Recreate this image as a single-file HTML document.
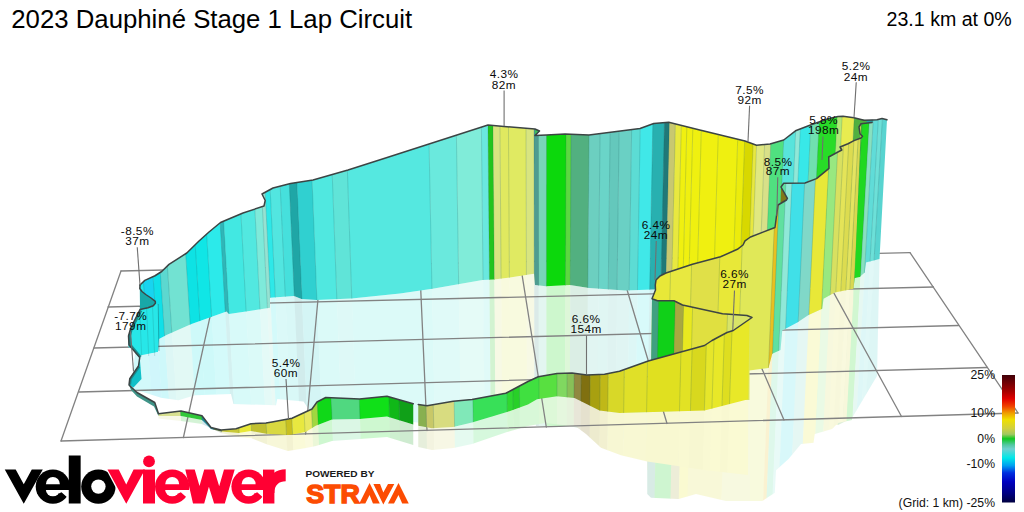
<!DOCTYPE html>
<html><head><meta charset="utf-8"><title>2023 Dauphine Stage 1 Lap Circuit</title>
<style>html,body{margin:0;padding:0;background:#fff;}body{width:1024px;height:512px;overflow:hidden;font-family:"Liberation Sans",sans-serif;}svg{display:block;}text{font-family:"Liberation Sans",sans-serif;}</style></head><body>
<svg width="1024" height="512" viewBox="0 0 1024 512">
<rect width="1024" height="512" fill="#ffffff"/>
<g id="refl" opacity="0.2">
<clipPath id="c1"><polygon points="140,309.5 130.75,328 128.5,336 128.5,347 132.6,349 140,354.5 158,351.7 159,339 166.5,335 191.5,324 226.5,311.5 229,314 270,307.75 270,297.75 294,296 301.5,299 316.5,300 351.5,298.5 400,293.5 432.5,288.75 482.5,280 494,279.5 510,277.5 534,273.75 535,285 546,286.25 570,285 589,288 625,290.5 652.5,289.5 800,290 859.75,277 864.75,272.5 866,262.5 879.5,259 879.5,259 877,376 869.5,388.5 852,418 838,425 800,424 784,425 757,424 745,426 700,438 669,447 652,445 625,440 589,431 570,426 536,426 534,410 510,422 488,425 432,424 384,419 330,416 312,412 308.5,409 303.5,401.5 277.25,399 276,405.25 233.5,404 231,394 194.75,395.25 178.5,400.25 161,397.75 140,391 131,389"/></clipPath>
<g clip-path="url(#c1)">
<polygon points="72.31,0 123.75,0 160.2,512 113.23,512" fill="#22e6ea"/>
<polygon points="123.34,0 134.27,0 169.8,512 159.82,512" fill="#18d4f0"/>
<polygon points="133.86,0 142.16,0 177,512 169.42,512" fill="#10e0e8"/>
<polygon points="141.74,0 150.05,0 184.2,512 176.62,512" fill="#5cd8d0"/>
<polygon points="149.63,0 170.03,0 202.45,512 183.83,512" fill="#72e2d2"/>
<polygon points="169.62,0 180.55,0 212.05,512 202.07,512" fill="#0ee2e4"/>
<polygon points="180.13,0 193.17,0 223.58,512 211.68,512" fill="#10e6e6"/>
<polygon points="192.76,0 207.89,0 237.02,512 223.2,512" fill="#2ceaea"/>
<polygon points="207.48,0 211.58,0 240.39,512 236.65,512" fill="#2fb6b8"/>
<polygon points="211.16,0 229.98,0 257.19,512 240.01,512" fill="#42e8e2"/>
<polygon points="229.57,0 244.71,0 270.64,512 256.81,512" fill="#52e8e0"/>
<polygon points="244.29,0 252.6,0 277.84,512 270.26,512" fill="#7eeada"/>
<polygon points="252.18,0 256.28,0 281.2,512 277.46,512" fill="#96e2d2"/>
<polygon points="255.86,0 261.54,0 286,512 280.82,512" fill="#2ee8e8"/>
<polygon points="261.12,0 272.05,0 295.61,512 285.62,512" fill="#52e6e0"/>
<polygon points="271.64,0 281.52,0 304.25,512 295.23,512" fill="#46e0dc"/>
<polygon points="281.11,0 289.41,0 311.45,512 303.87,512" fill="#1fa6a6"/>
<polygon points="288.99,0 305.18,0 325.86,512 311.07,512" fill="#30d0d0"/>
<polygon points="304.77,0 326.22,0 345.06,512 325.48,512" fill="#50e8e0"/>
<polygon points="325.81,0 342,0 359.47,512 344.69,512" fill="#60e4d8"/>
<polygon points="341.58,0 426.62,0 436.73,512 359.09,512" fill="#55e8e0"/>
<polygon points="426.2,0 454.79,0 462.46,512 436.36,512" fill="#6ae9dd"/>
<polygon points="454.38,0 480.47,0 485.91,512 462.08,512" fill="#80ecd9"/>
<polygon points="480.06,0 487.17,0 492.03,512 485.53,512" fill="#6ae8df"/>
<polygon points="486.76,0 492.29,0 496.69,512 491.65,512" fill="#22c41e"/>
<polygon points="491.87,0 499.44,0 503.23,512 496.32,512" fill="#d8e480"/>
<polygon points="499.03,0 508.14,0 511.17,512 502.85,512" fill="#e0e960"/>
<polygon points="507.72,0 526.03,0 527.51,512 510.79,512" fill="#e0ea62"/>
<polygon points="525.62,0 534.19,0 534.96,512 527.13,512" fill="#d8e580"/>
<polygon points="533.78,0 538.8,0 539.17,512 534.58,512" fill="#4e9c90"/>
<polygon points="538.39,0 547,0 546.65,512 538.79,512" fill="#78d4b8"/>
<polygon points="546.59,0 566.97,0 564.89,512 546.27,512" fill="#0cd80c"/>
<polygon points="566.56,0 572.1,0 569.57,512 564.51,512" fill="#5cd840"/>
<polygon points="571.68,0 590.53,0 586.4,512 569.19,512" fill="#52b080"/>
<polygon points="590.12,0 601.8,0 596.69,512 586.02,512" fill="#6ccfc0"/>
<polygon points="601.39,0 612.05,0 606.04,512 596.31,512" fill="#6ad4c8"/>
<polygon points="611.63,0 621.26,0 614.46,512 605.67,512" fill="#64c8bc"/>
<polygon points="620.85,0 634.07,0 626.15,512 614.08,512" fill="#6ad0c4"/>
<polygon points="633.65,0 642.78,0 634.1,512 625.77,512" fill="#5cdcd4"/>
<polygon points="642.36,0 655.58,0 645.79,512 633.72,512" fill="#40e8e8"/>
<polygon points="655.17,0 667.36,0 656.55,512 645.42,512" fill="#28b0b0"/>
<polygon points="666.95,0 672.48,0 661.23,512 656.17,512" fill="#207878"/>
<polygon points="672.07,0 678.63,0 666.84,512 660.85,512" fill="#c8c870"/>
<polygon points="678.21,0 684.77,0 672.45,512 666.46,512" fill="#e8e840"/>
<polygon points="684.36,0 690.41,0 677.59,512 672.07,512" fill="#f0f010"/>
<polygon points="689.99,0 696.57,0 683.22,512 677.22,512" fill="#f0f010"/>
<polygon points="696.16,0 705.31,0 691.2,512 682.85,512" fill="#eff010"/>
<polygon points="704.9,0 722.79,0 707.16,512 690.82,512" fill="#f0f010"/>
<polygon points="722.37,0 742.83,0 725.46,512 706.78,512" fill="#eff010"/>
<polygon points="742.42,0 750.03,0 732.03,512 725.08,512" fill="#ecec0c"/>
<polygon points="749.61,0 758.76,0 740.01,512 731.65,512" fill="#d8d800"/>
<polygon points="758.35,0 762.36,0 743.29,512 739.63,512" fill="#e8e840"/>
<polygon points="761.95,0 770.59,0 750.8,512 742.92,512" fill="#e0e880"/>
<polygon points="770.17,0 776.86,0 756.53,512 750.42,512" fill="#d8e088"/>
<polygon points="776.45,0 789.98,0 768.51,512 756.15,512" fill="#50e080"/>
<polygon points="789.57,0 801.84,0 779.34,512 768.14,512" fill="#58e4dc"/>
<polygon points="801.42,0 806.44,0 783.54,512 778.96,512" fill="#90e8d8"/>
<polygon points="806.03,0 816.95,0 793.14,512 783.16,512" fill="#38e8e8"/>
<polygon points="816.54,0 825.4,0 800.85,512 792.76,512" fill="#70e0b0"/>
<polygon points="824.98,0 843.53,0 817.4,512 800.47,512" fill="#28dc28"/>
<polygon points="843.11,0 848.63,0 822.06,512 817.03,512" fill="#b4e878"/>
<polygon points="848.22,0 860.99,0 833.35,512 821.69,512" fill="#e8ec50"/>
<polygon points="860.58,0 869.33,0 840.96,512 832.97,512" fill="#50b040"/>
<polygon points="868.92,0 876.48,0 847.49,512 840.59,512" fill="#20d820"/>
<polygon points="876.07,0 880.57,0 851.23,512 847.12,512" fill="#88e0c0"/>
<polygon points="880.16,0 885.68,0 855.89,512 850.85,512" fill="#60dcd8"/>
<polygon points="885.26,0 889.76,0 859.62,512 855.51,512" fill="#6ce0d8"/>
<polygon points="889.35,0 925.93,0 892.64,512 859.24,512" fill="#58d4d0"/>
</g>
<clipPath id="c2"><polygon points="647.25,400 749.5,400 749.5,370.5 768.5,368 772.25,353.75 780.5,350 782.25,330.5 797.25,322.5 808.5,315 822.25,308.75 823.5,298.75 834.75,292.5 853.5,288.75 854.75,277 853.5,288.75 852,420 838,423 832,429 814.75,434 813.5,442.75 801,444 788.5,459 776,470.25 774.75,492.75 762.25,501 750,501 750,482 700,478 647.25,470"/></clipPath>
<g clip-path="url(#c2)">
<polygon points="613.25,0 677.09,0 665.43,512 607.14,512" fill="#e8e838"/>
<polygon points="676.67,0 699.02,0 685.46,512 665.05,512" fill="#e8e840"/>
<polygon points="698.6,0 728.26,0 712.16,512 685.08,512" fill="#e0e048"/>
<polygon points="727.85,0 751.23,0 733.13,512 711.78,512" fill="#e8e838"/>
<polygon points="750.82,0 783.92,0 762.98,512 732.76,512" fill="#e0e858"/>
<polygon points="783.51,0 787.58,0 766.32,512 762.6,512" fill="#e8c020"/>
<polygon points="787.16,0 794.05,0 772.23,512 765.94,512" fill="#60e0a0"/>
<polygon points="793.64,0 800.32,0 777.95,512 771.85,512" fill="#90e8d8"/>
<polygon points="799.9,0 813.37,0 789.87,512 777.57,512" fill="#40e0e8"/>
<polygon points="812.96,0 824.34,0 799.88,512 789.49,512" fill="#80d8c8"/>
<polygon points="823.92,0 837.39,0 811.8,512 799.5,512" fill="#e8e838"/>
<polygon points="836.98,0 845.75,0 819.43,512 811.42,512" fill="#98e880"/>
<polygon points="845.33,0 851.49,0 824.67,512 819.05,512" fill="#d8e060"/>
<polygon points="851.08,0 856.71,0 829.44,512 824.3,512" fill="#e4e458"/>
<polygon points="856.3,0 861.93,0 834.21,512 829.06,512" fill="#dcdc50"/>
<polygon points="861.52,0 866.11,0 838.02,512 833.83,512" fill="#e4e460"/>
<polygon points="865.7,0 870.29,0 841.84,512 837.65,512" fill="#d8d850"/>
<polygon points="869.87,0 907.61,0 875.91,512 841.46,512" fill="#20d820"/>
</g>
<clipPath id="c3"><polygon points="647.25,400 750,400 750,501 726,501 696,494 678.5,499 651,497.75 647.25,494"/></clipPath>
<g clip-path="url(#c3)">
<polygon points="620,0 665.24,0 654.61,512 613.31,512" fill="#40a080"/>
<polygon points="664.83,0 682.72,0 670.57,512 654.24,512" fill="#10d018"/>
<polygon points="682.3,0 691.72,0 678.8,512 670.2,512" fill="#a8a840"/>
<polygon points="691.31,0 701.26,0 687.5,512 678.42,512" fill="#e8e820"/>
<polygon points="700.84,0 738.33,0 721.36,512 687.12,512" fill="#e0e040"/>
<polygon points="737.92,0 795.87,0 773.89,512 720.98,512" fill="#d8e468"/>
</g>
<clipPath id="c4"><polygon points="418.25,425.75 432,428.25 453.25,427 472,422.5 507,412 528,404.5 537,399.25 557,396.25 574.5,398 587,404.25 599.5,410.5 619.5,413 704.5,410.5 748.25,399.25 748,475 704.5,470 647.25,461.5 621,455.25 601,447.75 586,434 576,426.5 545,423 528,426 507,432 472,444 453.25,448 432,450 418.25,447"/></clipPath>
<g clip-path="url(#c4)">
<polygon points="378.35,0 417.85,0 428.73,512 392.66,512" fill="#88b050"/>
<polygon points="417.44,0 425.61,0 435.82,512 428.35,512" fill="#c8c868"/>
<polygon points="425.2,0 448.1,0 456.35,512 435.44,512" fill="#d8dc80"/>
<polygon points="447.69,0 468.18,0 474.69,512 455.97,512" fill="#80e8b8"/>
<polygon points="467.77,0 504.86,0 508.18,512 474.31,512" fill="#38e058"/>
<polygon points="504.45,0 511.29,0 514.04,512 507.8,512" fill="#30d830"/>
<polygon points="510.87,0 518.25,0 520.4,512 513.67,512" fill="#28d028"/>
<polygon points="517.83,0 539.13,0 539.47,512 520.02,512" fill="#40e040"/>
<polygon points="538.72,0 558.41,0 557.07,512 539.09,512" fill="#58e040"/>
<polygon points="557.99,0 569.12,0 566.85,512 556.69,512" fill="#80d860"/>
<polygon points="568.7,0 576.61,0 573.69,512 566.47,512" fill="#88c058"/>
<polygon points="576.2,0 584.11,0 580.54,512 573.31,512" fill="#908840"/>
<polygon points="583.69,0 593.75,0 589.34,512 580.16,512" fill="#807010"/>
<polygon points="593.33,0 604.46,0 599.11,512 588.96,512" fill="#a8a010"/>
<polygon points="604.04,0 613.02,0 606.94,512 598.74,512" fill="#c0b818"/>
<polygon points="612.61,0 630.16,0 622.58,512 606.56,512" fill="#d8d828"/>
<polygon points="629.74,0 654.79,0 645.07,512 622.2,512" fill="#e0e028"/>
<polygon points="654.37,0 690.13,0 677.34,512 644.69,512" fill="#e0e020"/>
<polygon points="689.71,0 701.91,0 688.1,512 676.96,512" fill="#e2e224"/>
<polygon points="701.49,0 716.9,0 701.78,512 687.72,512" fill="#d8d81e"/>
<polygon points="716.49,0 724.93,0 709.12,512 701.41,512" fill="#e6e62a"/>
<polygon points="724.52,0 735.64,0 718.9,512 708.74,512" fill="#e8e828"/>
<polygon points="735.23,0 743.67,0 726.23,512 718.52,512" fill="#dede20"/>
<polygon points="743.26,0 796.15,0 774.14,512 725.85,512" fill="#e8e828"/>
</g>
<clipPath id="c5"><polygon points="158.5,416 181,416 202,420 211,429 221,431.5 238.5,433 251,431 266,433.75 288,435 292,434.5 305.75,432 315.75,425.75 332,419.5 359.5,419 387,416.5 413.25,424.5 413.25,445 387,437 359.5,439 332,441 315.75,446 305.75,448 288,451 266,444 251,438 238.5,437 221,433 202,424 181,421 158.5,418.5"/></clipPath>
<g clip-path="url(#c5)">
<polygon points="97.92,0 153.62,0 187.47,512 136.61,512" fill="#d8e090"/>
<polygon points="153.2,0 176.23,0 208.11,512 187.09,512" fill="#30c838"/>
<polygon points="175.82,0 188.08,0 218.93,512 207.74,512" fill="#208898"/>
<polygon points="187.66,0 196.69,0 226.79,512 218.55,512" fill="#506838"/>
<polygon points="196.28,0 215.53,0 244,512 226.42,512" fill="#c8c838"/>
<polygon points="215.12,0 228.99,0 256.29,512 243.62,512" fill="#e8e838"/>
<polygon points="228.58,0 245.15,0 271.04,512 255.91,512" fill="#c0c030"/>
<polygon points="244.73,0 266.41,0 290.45,512 270.66,512" fill="#d8d840"/>
<polygon points="266,0 273.14,0 296.6,512 290.08,512" fill="#c8c020"/>
<polygon points="272.73,0 286.6,0 308.89,512 296.22,512" fill="#e8e840"/>
<polygon points="286.19,0 294.68,0 316.26,512 308.51,512" fill="#e8e860"/>
<polygon points="294.26,0 301.14,0 322.16,512 315.89,512" fill="#a0d840"/>
<polygon points="300.72,0 316.21,0 335.93,512 321.78,512" fill="#10d818"/>
<polygon points="315.8,0 346.36,0 363.46,512 335.55,512" fill="#50d880"/>
<polygon points="345.95,0 378.13,0 392.46,512 363.08,512" fill="#10e018"/>
<polygon points="377.71,0 388.9,0 402.29,512 392.08,512" fill="#10b818"/>
<polygon points="388.48,0 434.76,0 444.17,512 401.91,512" fill="#10a018"/>
</g>
</g>
<g id="grid" stroke="#828282" stroke-width="1.3" fill="none" stroke-linecap="round">
<line x1="121" y1="271" x2="910" y2="252.6"/>
<line x1="108" y1="307" x2="933.5" y2="287"/>
<line x1="94" y1="348" x2="958.5" y2="325.5"/>
<line x1="79" y1="392" x2="987.25" y2="367.5"/>
<line x1="61" y1="441" x2="1018" y2="413"/>
<line x1="121" y1="271" x2="61" y2="441"/>
<line x1="220.6" y1="268.7" x2="183.4" y2="437.5"/>
<line x1="321" y1="266.4" x2="305.6" y2="434"/>
<line x1="419.6" y1="264.1" x2="427" y2="430.5"/>
<line x1="520" y1="261.8" x2="546.3" y2="427"/>
<line x1="618" y1="259.5" x2="667" y2="423.5"/>
<line x1="714" y1="257.2" x2="784" y2="420"/>
<line x1="813" y1="254.9" x2="901.5" y2="416.5"/>
<line x1="910" y1="252.6" x2="1018" y2="413"/>
</g>
<g id="backwall">
<clipPath id="c6"><polygon points="140,285 144.8,280.4 155,275.75 161.7,271.5 169,264.4 186.8,253 199,241 209,232 220.5,222.5 224,221 243,213 264,206 265.2,200.5 262,194 273,188 290.5,183.5 313,180 348,170 384,158.5 488,125 504,126.5 535,129 539.5,131 535,135.5 546.5,135 565,134 589,135 640,128.5 653.75,123.5 668.75,122.25 698.75,129.75 745,141 756.5,145.25 770,144 783.7,140 795.5,130.8 810.5,125 828,118.75 838,116.5 843,116.25 854,117.75 864,120.25 872,120 877,119.75 882,118.5 887,119.75 879.5,259 866,262.5 864.75,272.5 859.75,277 800,290 652.5,289.5 625,290.5 589,288 570,285 546,286.25 535,285 534,273.75 510,277.5 494,279.5 482.5,280 432.5,288.75 400,293.5 351.5,298.5 316.5,300 301.5,299 294,296 270,297.75 270,307.75 229,314 226.5,311.5 191.5,324 166.5,335 159,339 158,351.7 140,354.5 132.6,349 128.5,347 128.5,336 130.75,328 140,309.5"/></clipPath>
<g clip-path="url(#c6)">
<polygon points="72.31,0 123.75,0 160.2,512 113.23,512" fill="#22e6ea"/>
<polygon points="123.34,0 134.27,0 169.8,512 159.82,512" fill="#18d4f0"/>
<polygon points="133.86,0 142.16,0 177,512 169.42,512" fill="#10e0e8"/>
<polygon points="141.74,0 150.05,0 184.2,512 176.62,512" fill="#5cd8d0"/>
<polygon points="149.63,0 170.03,0 202.45,512 183.83,512" fill="#72e2d2"/>
<polygon points="169.62,0 180.55,0 212.05,512 202.07,512" fill="#0ee2e4"/>
<polygon points="180.13,0 193.17,0 223.58,512 211.68,512" fill="#10e6e6"/>
<polygon points="192.76,0 207.89,0 237.02,512 223.2,512" fill="#2ceaea"/>
<polygon points="207.48,0 211.58,0 240.39,512 236.65,512" fill="#2fb6b8"/>
<polygon points="211.16,0 229.98,0 257.19,512 240.01,512" fill="#42e8e2"/>
<polygon points="229.57,0 244.71,0 270.64,512 256.81,512" fill="#52e8e0"/>
<polygon points="244.29,0 252.6,0 277.84,512 270.26,512" fill="#7eeada"/>
<polygon points="252.18,0 256.28,0 281.2,512 277.46,512" fill="#96e2d2"/>
<polygon points="255.86,0 261.54,0 286,512 280.82,512" fill="#2ee8e8"/>
<polygon points="261.12,0 272.05,0 295.61,512 285.62,512" fill="#52e6e0"/>
<polygon points="271.64,0 281.52,0 304.25,512 295.23,512" fill="#46e0dc"/>
<polygon points="281.11,0 289.41,0 311.45,512 303.87,512" fill="#1fa6a6"/>
<polygon points="288.99,0 305.18,0 325.86,512 311.07,512" fill="#30d0d0"/>
<polygon points="304.77,0 326.22,0 345.06,512 325.48,512" fill="#50e8e0"/>
<polygon points="325.81,0 342,0 359.47,512 344.69,512" fill="#60e4d8"/>
<polygon points="341.58,0 426.62,0 436.73,512 359.09,512" fill="#55e8e0"/>
<polygon points="426.2,0 454.79,0 462.46,512 436.36,512" fill="#6ae9dd"/>
<polygon points="454.38,0 480.47,0 485.91,512 462.08,512" fill="#80ecd9"/>
<polygon points="480.06,0 487.17,0 492.03,512 485.53,512" fill="#6ae8df"/>
<polygon points="486.76,0 492.29,0 496.69,512 491.65,512" fill="#22c41e"/>
<polygon points="491.87,0 499.44,0 503.23,512 496.32,512" fill="#d8e480"/>
<polygon points="499.03,0 508.14,0 511.17,512 502.85,512" fill="#e0e960"/>
<polygon points="507.72,0 526.03,0 527.51,512 510.79,512" fill="#e0ea62"/>
<polygon points="525.62,0 534.19,0 534.96,512 527.13,512" fill="#d8e580"/>
<polygon points="533.78,0 538.8,0 539.17,512 534.58,512" fill="#4e9c90"/>
<polygon points="538.39,0 547,0 546.65,512 538.79,512" fill="#78d4b8"/>
<polygon points="546.59,0 566.97,0 564.89,512 546.27,512" fill="#0cd80c"/>
<polygon points="566.56,0 572.1,0 569.57,512 564.51,512" fill="#5cd840"/>
<polygon points="571.68,0 590.53,0 586.4,512 569.19,512" fill="#52b080"/>
<polygon points="590.12,0 601.8,0 596.69,512 586.02,512" fill="#6ccfc0"/>
<polygon points="601.39,0 612.05,0 606.04,512 596.31,512" fill="#6ad4c8"/>
<polygon points="611.63,0 621.26,0 614.46,512 605.67,512" fill="#64c8bc"/>
<polygon points="620.85,0 634.07,0 626.15,512 614.08,512" fill="#6ad0c4"/>
<polygon points="633.65,0 642.78,0 634.1,512 625.77,512" fill="#5cdcd4"/>
<polygon points="642.36,0 655.58,0 645.79,512 633.72,512" fill="#40e8e8"/>
<polygon points="655.17,0 667.36,0 656.55,512 645.42,512" fill="#28b0b0"/>
<polygon points="666.95,0 672.48,0 661.23,512 656.17,512" fill="#207878"/>
<polygon points="672.07,0 678.63,0 666.84,512 660.85,512" fill="#c8c870"/>
<polygon points="678.21,0 684.77,0 672.45,512 666.46,512" fill="#e8e840"/>
<polygon points="684.36,0 690.41,0 677.59,512 672.07,512" fill="#f0f010"/>
<polygon points="689.99,0 696.57,0 683.22,512 677.22,512" fill="#f0f010"/>
<polygon points="696.16,0 705.31,0 691.2,512 682.85,512" fill="#eff010"/>
<polygon points="704.9,0 722.79,0 707.16,512 690.82,512" fill="#f0f010"/>
<polygon points="722.37,0 742.83,0 725.46,512 706.78,512" fill="#eff010"/>
<polygon points="742.42,0 750.03,0 732.03,512 725.08,512" fill="#ecec0c"/>
<polygon points="749.61,0 758.76,0 740.01,512 731.65,512" fill="#d8d800"/>
<polygon points="758.35,0 762.36,0 743.29,512 739.63,512" fill="#e8e840"/>
<polygon points="761.95,0 770.59,0 750.8,512 742.92,512" fill="#e0e880"/>
<polygon points="770.17,0 776.86,0 756.53,512 750.42,512" fill="#d8e088"/>
<polygon points="776.45,0 789.98,0 768.51,512 756.15,512" fill="#50e080"/>
<polygon points="789.57,0 801.84,0 779.34,512 768.14,512" fill="#58e4dc"/>
<polygon points="801.42,0 806.44,0 783.54,512 778.96,512" fill="#90e8d8"/>
<polygon points="806.03,0 816.95,0 793.14,512 783.16,512" fill="#38e8e8"/>
<polygon points="816.54,0 825.4,0 800.85,512 792.76,512" fill="#70e0b0"/>
<polygon points="824.98,0 843.53,0 817.4,512 800.47,512" fill="#28dc28"/>
<polygon points="843.11,0 848.63,0 822.06,512 817.03,512" fill="#b4e878"/>
<polygon points="848.22,0 860.99,0 833.35,512 821.69,512" fill="#e8ec50"/>
<polygon points="860.58,0 869.33,0 840.96,512 832.97,512" fill="#50b040"/>
<polygon points="868.92,0 876.48,0 847.49,512 840.59,512" fill="#20d820"/>
<polygon points="876.07,0 880.57,0 851.23,512 847.12,512" fill="#88e0c0"/>
<polygon points="880.16,0 885.68,0 855.89,512 850.85,512" fill="#60dcd8"/>
<polygon points="885.26,0 889.76,0 859.62,512 855.51,512" fill="#6ce0d8"/>
<polygon points="889.35,0 925.93,0 892.64,512 859.24,512" fill="#58d4d0"/>
<line x1="123.34" y1="0" x2="159.82" y2="512" stroke="#1c5a5a" stroke-opacity="0.28" stroke-width="0.7"/>
<line x1="133.86" y1="0" x2="169.42" y2="512" stroke="#1c5a5a" stroke-opacity="0.28" stroke-width="0.7"/>
<line x1="141.74" y1="0" x2="176.62" y2="512" stroke="#1c5a5a" stroke-opacity="0.28" stroke-width="0.7"/>
<line x1="149.63" y1="0" x2="183.83" y2="512" stroke="#1c5a5a" stroke-opacity="0.28" stroke-width="0.7"/>
<line x1="169.62" y1="0" x2="202.07" y2="512" stroke="#1c5a5a" stroke-opacity="0.28" stroke-width="0.7"/>
<line x1="180.13" y1="0" x2="211.68" y2="512" stroke="#1c5a5a" stroke-opacity="0.28" stroke-width="0.7"/>
<line x1="192.76" y1="0" x2="223.2" y2="512" stroke="#1c5a5a" stroke-opacity="0.28" stroke-width="0.7"/>
<line x1="207.48" y1="0" x2="236.65" y2="512" stroke="#1c5a5a" stroke-opacity="0.28" stroke-width="0.7"/>
<line x1="211.16" y1="0" x2="240.01" y2="512" stroke="#1c5a5a" stroke-opacity="0.28" stroke-width="0.7"/>
<line x1="229.57" y1="0" x2="256.81" y2="512" stroke="#1c5a5a" stroke-opacity="0.28" stroke-width="0.7"/>
<line x1="244.29" y1="0" x2="270.26" y2="512" stroke="#1c5a5a" stroke-opacity="0.28" stroke-width="0.7"/>
<line x1="252.18" y1="0" x2="277.46" y2="512" stroke="#1c5a5a" stroke-opacity="0.28" stroke-width="0.7"/>
<line x1="255.86" y1="0" x2="280.82" y2="512" stroke="#1c5a5a" stroke-opacity="0.28" stroke-width="0.7"/>
<line x1="261.12" y1="0" x2="285.62" y2="512" stroke="#1c5a5a" stroke-opacity="0.28" stroke-width="0.7"/>
<line x1="271.64" y1="0" x2="295.23" y2="512" stroke="#1c5a5a" stroke-opacity="0.28" stroke-width="0.7"/>
<line x1="281.11" y1="0" x2="303.87" y2="512" stroke="#1c5a5a" stroke-opacity="0.28" stroke-width="0.7"/>
<line x1="288.99" y1="0" x2="311.07" y2="512" stroke="#1c5a5a" stroke-opacity="0.28" stroke-width="0.7"/>
<line x1="304.77" y1="0" x2="325.48" y2="512" stroke="#1c5a5a" stroke-opacity="0.28" stroke-width="0.7"/>
<line x1="325.81" y1="0" x2="344.69" y2="512" stroke="#1c5a5a" stroke-opacity="0.28" stroke-width="0.7"/>
<line x1="341.58" y1="0" x2="359.09" y2="512" stroke="#1c5a5a" stroke-opacity="0.28" stroke-width="0.7"/>
<line x1="426.2" y1="0" x2="436.36" y2="512" stroke="#1c5a5a" stroke-opacity="0.28" stroke-width="0.7"/>
<line x1="454.38" y1="0" x2="462.08" y2="512" stroke="#1c5a5a" stroke-opacity="0.28" stroke-width="0.7"/>
<line x1="480.06" y1="0" x2="485.53" y2="512" stroke="#1c5a5a" stroke-opacity="0.28" stroke-width="0.7"/>
<line x1="486.76" y1="0" x2="491.65" y2="512" stroke="#1c5a5a" stroke-opacity="0.28" stroke-width="0.7"/>
<line x1="491.87" y1="0" x2="496.32" y2="512" stroke="#1c5a5a" stroke-opacity="0.28" stroke-width="0.7"/>
<line x1="499.03" y1="0" x2="502.85" y2="512" stroke="#1c5a5a" stroke-opacity="0.28" stroke-width="0.7"/>
<line x1="507.72" y1="0" x2="510.79" y2="512" stroke="#1c5a5a" stroke-opacity="0.28" stroke-width="0.7"/>
<line x1="525.62" y1="0" x2="527.13" y2="512" stroke="#1c5a5a" stroke-opacity="0.28" stroke-width="0.7"/>
<line x1="533.78" y1="0" x2="534.58" y2="512" stroke="#1c5a5a" stroke-opacity="0.28" stroke-width="0.7"/>
<line x1="538.39" y1="0" x2="538.79" y2="512" stroke="#1c5a5a" stroke-opacity="0.28" stroke-width="0.7"/>
<line x1="546.59" y1="0" x2="546.27" y2="512" stroke="#1c5a5a" stroke-opacity="0.28" stroke-width="0.7"/>
<line x1="566.56" y1="0" x2="564.51" y2="512" stroke="#1c5a5a" stroke-opacity="0.28" stroke-width="0.7"/>
<line x1="571.68" y1="0" x2="569.19" y2="512" stroke="#1c5a5a" stroke-opacity="0.28" stroke-width="0.7"/>
<line x1="590.12" y1="0" x2="586.02" y2="512" stroke="#1c5a5a" stroke-opacity="0.28" stroke-width="0.7"/>
<line x1="601.39" y1="0" x2="596.31" y2="512" stroke="#1c5a5a" stroke-opacity="0.28" stroke-width="0.7"/>
<line x1="611.63" y1="0" x2="605.67" y2="512" stroke="#1c5a5a" stroke-opacity="0.28" stroke-width="0.7"/>
<line x1="620.85" y1="0" x2="614.08" y2="512" stroke="#1c5a5a" stroke-opacity="0.28" stroke-width="0.7"/>
<line x1="633.65" y1="0" x2="625.77" y2="512" stroke="#1c5a5a" stroke-opacity="0.28" stroke-width="0.7"/>
<line x1="642.36" y1="0" x2="633.72" y2="512" stroke="#1c5a5a" stroke-opacity="0.28" stroke-width="0.7"/>
<line x1="655.17" y1="0" x2="645.42" y2="512" stroke="#1c5a5a" stroke-opacity="0.28" stroke-width="0.7"/>
<line x1="666.95" y1="0" x2="656.17" y2="512" stroke="#1c5a5a" stroke-opacity="0.28" stroke-width="0.7"/>
<line x1="672.07" y1="0" x2="660.85" y2="512" stroke="#1c5a5a" stroke-opacity="0.28" stroke-width="0.7"/>
<line x1="678.21" y1="0" x2="666.46" y2="512" stroke="#1c5a5a" stroke-opacity="0.28" stroke-width="0.7"/>
<line x1="684.36" y1="0" x2="672.07" y2="512" stroke="#1c5a5a" stroke-opacity="0.28" stroke-width="0.7"/>
<line x1="689.99" y1="0" x2="677.22" y2="512" stroke="#1c5a5a" stroke-opacity="0.28" stroke-width="0.7"/>
<line x1="696.16" y1="0" x2="682.85" y2="512" stroke="#1c5a5a" stroke-opacity="0.28" stroke-width="0.7"/>
<line x1="704.9" y1="0" x2="690.82" y2="512" stroke="#1c5a5a" stroke-opacity="0.28" stroke-width="0.7"/>
<line x1="722.37" y1="0" x2="706.78" y2="512" stroke="#1c5a5a" stroke-opacity="0.28" stroke-width="0.7"/>
<line x1="742.42" y1="0" x2="725.08" y2="512" stroke="#1c5a5a" stroke-opacity="0.28" stroke-width="0.7"/>
<line x1="749.61" y1="0" x2="731.65" y2="512" stroke="#1c5a5a" stroke-opacity="0.28" stroke-width="0.7"/>
<line x1="758.35" y1="0" x2="739.63" y2="512" stroke="#1c5a5a" stroke-opacity="0.28" stroke-width="0.7"/>
<line x1="761.95" y1="0" x2="742.92" y2="512" stroke="#1c5a5a" stroke-opacity="0.28" stroke-width="0.7"/>
<line x1="770.17" y1="0" x2="750.42" y2="512" stroke="#1c5a5a" stroke-opacity="0.28" stroke-width="0.7"/>
<line x1="776.45" y1="0" x2="756.15" y2="512" stroke="#1c5a5a" stroke-opacity="0.28" stroke-width="0.7"/>
<line x1="789.57" y1="0" x2="768.14" y2="512" stroke="#1c5a5a" stroke-opacity="0.28" stroke-width="0.7"/>
<line x1="801.42" y1="0" x2="778.96" y2="512" stroke="#1c5a5a" stroke-opacity="0.28" stroke-width="0.7"/>
<line x1="806.03" y1="0" x2="783.16" y2="512" stroke="#1c5a5a" stroke-opacity="0.28" stroke-width="0.7"/>
<line x1="816.54" y1="0" x2="792.76" y2="512" stroke="#1c5a5a" stroke-opacity="0.28" stroke-width="0.7"/>
<line x1="824.98" y1="0" x2="800.47" y2="512" stroke="#1c5a5a" stroke-opacity="0.28" stroke-width="0.7"/>
<line x1="843.11" y1="0" x2="817.03" y2="512" stroke="#1c5a5a" stroke-opacity="0.28" stroke-width="0.7"/>
<line x1="848.22" y1="0" x2="821.69" y2="512" stroke="#1c5a5a" stroke-opacity="0.28" stroke-width="0.7"/>
<line x1="860.58" y1="0" x2="832.97" y2="512" stroke="#1c5a5a" stroke-opacity="0.28" stroke-width="0.7"/>
<line x1="868.92" y1="0" x2="840.59" y2="512" stroke="#1c5a5a" stroke-opacity="0.28" stroke-width="0.7"/>
<line x1="876.07" y1="0" x2="847.12" y2="512" stroke="#1c5a5a" stroke-opacity="0.28" stroke-width="0.7"/>
<line x1="880.16" y1="0" x2="850.85" y2="512" stroke="#1c5a5a" stroke-opacity="0.28" stroke-width="0.7"/>
<line x1="885.26" y1="0" x2="855.51" y2="512" stroke="#1c5a5a" stroke-opacity="0.28" stroke-width="0.7"/>
<line x1="889.35" y1="0" x2="859.24" y2="512" stroke="#1c5a5a" stroke-opacity="0.28" stroke-width="0.7"/>
</g>
</g>
<g id="front">
<clipPath id="c7"><polygon points="861,123.75 859,127 860,133.75 862.5,136.25 861,138 854,140.6 848,143.75 840,147 841.8,150 837,152.5 828.7,157 829,168.3 816.5,178.6 805,183 783.7,183.3 781,187 787.4,198.3 786.5,200 778,205 776.75,214 775,227.5 750.5,237 745,240.9 743,245 737.4,249.3 720.5,256.8 692.4,264.3 666,273 660,276 656,280 655.3,285 655.5,290 652,298.75 651,400 749.5,400 749.5,370.5 768.5,368 772.25,353.75 780.5,350 782.25,330.5 797.25,322.5 808.5,315 822.25,308.75 823.5,298.75 834.75,292.5 853.5,288.75 854.75,277"/></clipPath>
<g clip-path="url(#c7)">
<polygon points="613.25,0 677.09,0 665.43,512 607.14,512" fill="#e8e838"/>
<polygon points="676.67,0 699.02,0 685.46,512 665.05,512" fill="#e8e840"/>
<polygon points="698.6,0 728.26,0 712.16,512 685.08,512" fill="#e0e048"/>
<polygon points="727.85,0 751.23,0 733.13,512 711.78,512" fill="#e8e838"/>
<polygon points="750.82,0 783.92,0 762.98,512 732.76,512" fill="#e0e858"/>
<polygon points="783.51,0 787.58,0 766.32,512 762.6,512" fill="#e8c020"/>
<polygon points="787.16,0 794.05,0 772.23,512 765.94,512" fill="#60e0a0"/>
<polygon points="793.64,0 800.32,0 777.95,512 771.85,512" fill="#90e8d8"/>
<polygon points="799.9,0 813.37,0 789.87,512 777.57,512" fill="#40e0e8"/>
<polygon points="812.96,0 824.34,0 799.88,512 789.49,512" fill="#80d8c8"/>
<polygon points="823.92,0 837.39,0 811.8,512 799.5,512" fill="#e8e838"/>
<polygon points="836.98,0 845.75,0 819.43,512 811.42,512" fill="#98e880"/>
<polygon points="845.33,0 851.49,0 824.67,512 819.05,512" fill="#d8e060"/>
<polygon points="851.08,0 856.71,0 829.44,512 824.3,512" fill="#e4e458"/>
<polygon points="856.3,0 861.93,0 834.21,512 829.06,512" fill="#dcdc50"/>
<polygon points="861.52,0 866.11,0 838.02,512 833.83,512" fill="#e4e460"/>
<polygon points="865.7,0 870.29,0 841.84,512 837.65,512" fill="#d8d850"/>
<polygon points="869.87,0 907.61,0 875.91,512 841.46,512" fill="#20d820"/>
<line x1="676.67" y1="0" x2="665.05" y2="512" stroke="#1c5a5a" stroke-opacity="0.28" stroke-width="0.7"/>
<line x1="698.6" y1="0" x2="685.08" y2="512" stroke="#1c5a5a" stroke-opacity="0.28" stroke-width="0.7"/>
<line x1="727.85" y1="0" x2="711.78" y2="512" stroke="#1c5a5a" stroke-opacity="0.28" stroke-width="0.7"/>
<line x1="750.82" y1="0" x2="732.76" y2="512" stroke="#1c5a5a" stroke-opacity="0.28" stroke-width="0.7"/>
<line x1="783.51" y1="0" x2="762.6" y2="512" stroke="#1c5a5a" stroke-opacity="0.28" stroke-width="0.7"/>
<line x1="787.16" y1="0" x2="765.94" y2="512" stroke="#1c5a5a" stroke-opacity="0.28" stroke-width="0.7"/>
<line x1="793.64" y1="0" x2="771.85" y2="512" stroke="#1c5a5a" stroke-opacity="0.28" stroke-width="0.7"/>
<line x1="799.9" y1="0" x2="777.57" y2="512" stroke="#1c5a5a" stroke-opacity="0.28" stroke-width="0.7"/>
<line x1="812.96" y1="0" x2="789.49" y2="512" stroke="#1c5a5a" stroke-opacity="0.28" stroke-width="0.7"/>
<line x1="823.92" y1="0" x2="799.5" y2="512" stroke="#1c5a5a" stroke-opacity="0.28" stroke-width="0.7"/>
<line x1="836.98" y1="0" x2="811.42" y2="512" stroke="#1c5a5a" stroke-opacity="0.28" stroke-width="0.7"/>
<line x1="845.33" y1="0" x2="819.05" y2="512" stroke="#1c5a5a" stroke-opacity="0.28" stroke-width="0.7"/>
<line x1="851.08" y1="0" x2="824.3" y2="512" stroke="#1c5a5a" stroke-opacity="0.28" stroke-width="0.7"/>
<line x1="856.3" y1="0" x2="829.06" y2="512" stroke="#1c5a5a" stroke-opacity="0.28" stroke-width="0.7"/>
<line x1="861.52" y1="0" x2="833.83" y2="512" stroke="#1c5a5a" stroke-opacity="0.28" stroke-width="0.7"/>
<line x1="865.7" y1="0" x2="837.65" y2="512" stroke="#1c5a5a" stroke-opacity="0.28" stroke-width="0.7"/>
<line x1="869.87" y1="0" x2="841.46" y2="512" stroke="#1c5a5a" stroke-opacity="0.28" stroke-width="0.7"/>
</g>
<polygon points="781,187.5 787.2,198 786.3,200.2 780.6,203.2" fill="#807818"/>
<clipPath id="c8"><polygon points="652,298.75 657.5,300.75 674,300.75 682.5,305 722.5,313.75 747,315.5 752,317.5 749.5,320.5 749,400 650.5,400"/></clipPath>
<g clip-path="url(#c8)">
<polygon points="620,0 665.24,0 654.61,512 613.31,512" fill="#40a080"/>
<polygon points="664.83,0 682.72,0 670.57,512 654.24,512" fill="#10d018"/>
<polygon points="682.3,0 691.72,0 678.8,512 670.2,512" fill="#a8a840"/>
<polygon points="691.31,0 701.26,0 687.5,512 678.42,512" fill="#e8e820"/>
<polygon points="700.84,0 738.33,0 721.36,512 687.12,512" fill="#e0e040"/>
<polygon points="737.92,0 795.87,0 773.89,512 720.98,512" fill="#d8e468"/>
<line x1="664.83" y1="0" x2="654.24" y2="512" stroke="#1c5a5a" stroke-opacity="0.28" stroke-width="0.7"/>
<line x1="682.3" y1="0" x2="670.2" y2="512" stroke="#1c5a5a" stroke-opacity="0.28" stroke-width="0.7"/>
<line x1="691.31" y1="0" x2="678.42" y2="512" stroke="#1c5a5a" stroke-opacity="0.28" stroke-width="0.7"/>
<line x1="700.84" y1="0" x2="687.12" y2="512" stroke="#1c5a5a" stroke-opacity="0.28" stroke-width="0.7"/>
<line x1="737.92" y1="0" x2="720.98" y2="512" stroke="#1c5a5a" stroke-opacity="0.28" stroke-width="0.7"/>
</g>
<clipPath id="c9"><polygon points="752,317.5 733.25,330.5 727,332.5 712,340.5 704.5,345.5 648.25,361 619.5,371.25 604.5,374.25 587,375 572,373 557,373.5 538.25,376.75 528,381.5 512,390 505.75,393.25 472,399.5 453.25,401.25 427,405.75 418.25,404.5 418.25,425.75 432,428.25 453.25,427 472,422.5 507,412 528,404.5 537,399.25 557,396.25 574.5,398 587,404.25 599.5,410.5 619.5,413 704.5,410.5 748.25,399.25 749.5,320.5"/></clipPath>
<g clip-path="url(#c9)">
<polygon points="378.35,0 417.85,0 428.73,512 392.66,512" fill="#88b050"/>
<polygon points="417.44,0 425.61,0 435.82,512 428.35,512" fill="#c8c868"/>
<polygon points="425.2,0 448.1,0 456.35,512 435.44,512" fill="#d8dc80"/>
<polygon points="447.69,0 468.18,0 474.69,512 455.97,512" fill="#80e8b8"/>
<polygon points="467.77,0 504.86,0 508.18,512 474.31,512" fill="#38e058"/>
<polygon points="504.45,0 511.29,0 514.04,512 507.8,512" fill="#30d830"/>
<polygon points="510.87,0 518.25,0 520.4,512 513.67,512" fill="#28d028"/>
<polygon points="517.83,0 539.13,0 539.47,512 520.02,512" fill="#40e040"/>
<polygon points="538.72,0 558.41,0 557.07,512 539.09,512" fill="#58e040"/>
<polygon points="557.99,0 569.12,0 566.85,512 556.69,512" fill="#80d860"/>
<polygon points="568.7,0 576.61,0 573.69,512 566.47,512" fill="#88c058"/>
<polygon points="576.2,0 584.11,0 580.54,512 573.31,512" fill="#908840"/>
<polygon points="583.69,0 593.75,0 589.34,512 580.16,512" fill="#807010"/>
<polygon points="593.33,0 604.46,0 599.11,512 588.96,512" fill="#a8a010"/>
<polygon points="604.04,0 613.02,0 606.94,512 598.74,512" fill="#c0b818"/>
<polygon points="612.61,0 630.16,0 622.58,512 606.56,512" fill="#d8d828"/>
<polygon points="629.74,0 654.79,0 645.07,512 622.2,512" fill="#e0e028"/>
<polygon points="654.37,0 690.13,0 677.34,512 644.69,512" fill="#e0e020"/>
<polygon points="689.71,0 701.91,0 688.1,512 676.96,512" fill="#e2e224"/>
<polygon points="701.49,0 716.9,0 701.78,512 687.72,512" fill="#d8d81e"/>
<polygon points="716.49,0 724.93,0 709.12,512 701.41,512" fill="#e6e62a"/>
<polygon points="724.52,0 735.64,0 718.9,512 708.74,512" fill="#e8e828"/>
<polygon points="735.23,0 743.67,0 726.23,512 718.52,512" fill="#dede20"/>
<polygon points="743.26,0 796.15,0 774.14,512 725.85,512" fill="#e8e828"/>
<line x1="417.44" y1="0" x2="428.35" y2="512" stroke="#1c5a5a" stroke-opacity="0.28" stroke-width="0.7"/>
<line x1="425.2" y1="0" x2="435.44" y2="512" stroke="#1c5a5a" stroke-opacity="0.28" stroke-width="0.7"/>
<line x1="447.69" y1="0" x2="455.97" y2="512" stroke="#1c5a5a" stroke-opacity="0.28" stroke-width="0.7"/>
<line x1="467.77" y1="0" x2="474.31" y2="512" stroke="#1c5a5a" stroke-opacity="0.28" stroke-width="0.7"/>
<line x1="504.45" y1="0" x2="507.8" y2="512" stroke="#1c5a5a" stroke-opacity="0.28" stroke-width="0.7"/>
<line x1="510.87" y1="0" x2="513.67" y2="512" stroke="#1c5a5a" stroke-opacity="0.28" stroke-width="0.7"/>
<line x1="517.83" y1="0" x2="520.02" y2="512" stroke="#1c5a5a" stroke-opacity="0.28" stroke-width="0.7"/>
<line x1="538.72" y1="0" x2="539.09" y2="512" stroke="#1c5a5a" stroke-opacity="0.28" stroke-width="0.7"/>
<line x1="557.99" y1="0" x2="556.69" y2="512" stroke="#1c5a5a" stroke-opacity="0.28" stroke-width="0.7"/>
<line x1="568.7" y1="0" x2="566.47" y2="512" stroke="#1c5a5a" stroke-opacity="0.28" stroke-width="0.7"/>
<line x1="576.2" y1="0" x2="573.31" y2="512" stroke="#1c5a5a" stroke-opacity="0.28" stroke-width="0.7"/>
<line x1="583.69" y1="0" x2="580.16" y2="512" stroke="#1c5a5a" stroke-opacity="0.28" stroke-width="0.7"/>
<line x1="593.33" y1="0" x2="588.96" y2="512" stroke="#1c5a5a" stroke-opacity="0.28" stroke-width="0.7"/>
<line x1="604.04" y1="0" x2="598.74" y2="512" stroke="#1c5a5a" stroke-opacity="0.28" stroke-width="0.7"/>
<line x1="612.61" y1="0" x2="606.56" y2="512" stroke="#1c5a5a" stroke-opacity="0.28" stroke-width="0.7"/>
<line x1="629.74" y1="0" x2="622.2" y2="512" stroke="#1c5a5a" stroke-opacity="0.28" stroke-width="0.7"/>
<line x1="654.37" y1="0" x2="644.69" y2="512" stroke="#1c5a5a" stroke-opacity="0.28" stroke-width="0.7"/>
<line x1="689.71" y1="0" x2="676.96" y2="512" stroke="#1c5a5a" stroke-opacity="0.28" stroke-width="0.7"/>
<line x1="701.49" y1="0" x2="687.72" y2="512" stroke="#1c5a5a" stroke-opacity="0.28" stroke-width="0.7"/>
<line x1="716.49" y1="0" x2="701.41" y2="512" stroke="#1c5a5a" stroke-opacity="0.28" stroke-width="0.7"/>
<line x1="724.52" y1="0" x2="708.74" y2="512" stroke="#1c5a5a" stroke-opacity="0.28" stroke-width="0.7"/>
<line x1="735.23" y1="0" x2="718.52" y2="512" stroke="#1c5a5a" stroke-opacity="0.28" stroke-width="0.7"/>
<line x1="743.26" y1="0" x2="725.85" y2="512" stroke="#1c5a5a" stroke-opacity="0.28" stroke-width="0.7"/>
</g>
<clipPath id="c10"><polygon points="413.25,403.75 387,396.25 359.5,399 325.75,397.5 317,402 312,409 292,418.25 272,422 266,423 251,423.75 236,428.75 221,430 211,427.5 202,415.75 181,411 158.5,413.75 158.5,416 181,416 202,420 211,429 221,431.5 238.5,433 251,431 266,433.75 288,435 292,434.5 305.75,432 315.75,425.75 332,419.5 359.5,419 387,416.5 413.25,424.5"/></clipPath>
<g clip-path="url(#c10)">
<polygon points="97.92,0 153.62,0 187.47,512 136.61,512" fill="#d8e090"/>
<polygon points="153.2,0 176.23,0 208.11,512 187.09,512" fill="#30c838"/>
<polygon points="175.82,0 188.08,0 218.93,512 207.74,512" fill="#208898"/>
<polygon points="187.66,0 196.69,0 226.79,512 218.55,512" fill="#506838"/>
<polygon points="196.28,0 215.53,0 244,512 226.42,512" fill="#c8c838"/>
<polygon points="215.12,0 228.99,0 256.29,512 243.62,512" fill="#e8e838"/>
<polygon points="228.58,0 245.15,0 271.04,512 255.91,512" fill="#c0c030"/>
<polygon points="244.73,0 266.41,0 290.45,512 270.66,512" fill="#d8d840"/>
<polygon points="266,0 273.14,0 296.6,512 290.08,512" fill="#c8c020"/>
<polygon points="272.73,0 286.6,0 308.89,512 296.22,512" fill="#e8e840"/>
<polygon points="286.19,0 294.68,0 316.26,512 308.51,512" fill="#e8e860"/>
<polygon points="294.26,0 301.14,0 322.16,512 315.89,512" fill="#a0d840"/>
<polygon points="300.72,0 316.21,0 335.93,512 321.78,512" fill="#10d818"/>
<polygon points="315.8,0 346.36,0 363.46,512 335.55,512" fill="#50d880"/>
<polygon points="345.95,0 378.13,0 392.46,512 363.08,512" fill="#10e018"/>
<polygon points="377.71,0 388.9,0 402.29,512 392.08,512" fill="#10b818"/>
<polygon points="388.48,0 434.76,0 444.17,512 401.91,512" fill="#10a018"/>
<line x1="153.2" y1="0" x2="187.09" y2="512" stroke="#1c5a5a" stroke-opacity="0.28" stroke-width="0.7"/>
<line x1="175.82" y1="0" x2="207.74" y2="512" stroke="#1c5a5a" stroke-opacity="0.28" stroke-width="0.7"/>
<line x1="187.66" y1="0" x2="218.55" y2="512" stroke="#1c5a5a" stroke-opacity="0.28" stroke-width="0.7"/>
<line x1="196.28" y1="0" x2="226.42" y2="512" stroke="#1c5a5a" stroke-opacity="0.28" stroke-width="0.7"/>
<line x1="215.12" y1="0" x2="243.62" y2="512" stroke="#1c5a5a" stroke-opacity="0.28" stroke-width="0.7"/>
<line x1="228.58" y1="0" x2="255.91" y2="512" stroke="#1c5a5a" stroke-opacity="0.28" stroke-width="0.7"/>
<line x1="244.73" y1="0" x2="270.66" y2="512" stroke="#1c5a5a" stroke-opacity="0.28" stroke-width="0.7"/>
<line x1="266" y1="0" x2="290.08" y2="512" stroke="#1c5a5a" stroke-opacity="0.28" stroke-width="0.7"/>
<line x1="272.73" y1="0" x2="296.22" y2="512" stroke="#1c5a5a" stroke-opacity="0.28" stroke-width="0.7"/>
<line x1="286.19" y1="0" x2="308.51" y2="512" stroke="#1c5a5a" stroke-opacity="0.28" stroke-width="0.7"/>
<line x1="294.26" y1="0" x2="315.89" y2="512" stroke="#1c5a5a" stroke-opacity="0.28" stroke-width="0.7"/>
<line x1="300.72" y1="0" x2="321.78" y2="512" stroke="#1c5a5a" stroke-opacity="0.28" stroke-width="0.7"/>
<line x1="315.8" y1="0" x2="335.55" y2="512" stroke="#1c5a5a" stroke-opacity="0.28" stroke-width="0.7"/>
<line x1="345.95" y1="0" x2="363.08" y2="512" stroke="#1c5a5a" stroke-opacity="0.28" stroke-width="0.7"/>
<line x1="377.71" y1="0" x2="392.08" y2="512" stroke="#1c5a5a" stroke-opacity="0.28" stroke-width="0.7"/>
<line x1="388.48" y1="0" x2="401.91" y2="512" stroke="#1c5a5a" stroke-opacity="0.28" stroke-width="0.7"/>
</g>
<polygon points="155.3,301.4 155.4,303.3 153.25,305.75 148,307.7 140,309.5 130.75,328 128.5,336 129,345 139.75,357.5 140,355.5 158,351.7 158.4,306" fill="#27e7e8"/>
<line x1="139.5" y1="306" x2="141.7" y2="356" stroke="#1c5a5a" stroke-opacity="0.25" stroke-width="0.7"/>
<line x1="146.5" y1="306" x2="148.7" y2="356" stroke="#1c5a5a" stroke-opacity="0.25" stroke-width="0.7"/>
<line x1="152.5" y1="306" x2="154.7" y2="356" stroke="#1c5a5a" stroke-opacity="0.25" stroke-width="0.7"/>
<line x1="158.2" y1="304" x2="159" y2="351" stroke="#1c5a5a" stroke-opacity="0.45" stroke-width="0.9"/>
<polygon points="139.8,288.5 142,291.5 145.75,294.5 151,298 155.3,301.4 155.4,303.3 153.25,305.75 148,307.7 140,309.5" fill="#18a8a8"/>
<polygon points="139.75,357.5 138.5,366 129.75,378.75 129,385 133.5,387.5 141.5,379" fill="#10c0c8"/>
<polygon points="129,385 137,392.5 154.75,402.5 158.5,413.75 158.5,416 154,406.5 137,396.5 131,390" fill="#3f9488"/>
</g>
<polygon points="535,129 539.5,131 535,135.5" fill="#3cbc5c"/>
<polygon points="861,119.3 866.5,120.3 866.5,123.1 861,123.75" fill="#50b040"/>
<polygon points="866.5,120.3 873,119.8 873,122.4 866.5,123.1" fill="#2c9ca0"/>
<polyline points="141,310.5 131.75,328.5 129.6,336 130,344.5 140.5,357" fill="none" stroke="#1a8a8c" stroke-width="2.6" stroke-linejoin="round"/>
<polyline points="139.3,366.5 130.6,379 130,384.6" fill="none" stroke="#1a8a8c" stroke-width="2.2" stroke-linejoin="round"/>
<g id="outlines" fill="none" stroke="#3c4444" stroke-width="1.5" stroke-linejoin="round" stroke-linecap="round">
<polyline points="140,285 144.8,280.4 155,275.75 161.7,271.5 169,264.4 186.8,253 199,241 209,232 220.5,222.5 224,221 243,213 264,206 265.2,200.5 262,194 273,188 290.5,183.5 313,180 348,170 384,158.5 488,125 504,126.5 535,129 539.5,131 535,135.5 546.5,135 565,134 589,135 640,128.5 653.75,123.5 668.75,122.25 698.75,129.75 745,141 756.5,145.25 770,144 783.7,140 795.5,130.8 810.5,125 828,118.75 838,116.5 843,116.25 854,117.75 864,120.25 872,120 877,119.75 882,118.5 887,119.75"/>
<polyline points="872,122.5 861,123.75 859,127 860,133.75 862.5,136.25 861,138 854,140.6 848,143.75 840,147 841.8,150 837,152.5 828.7,157 829,168.3 816.5,178.6 805,183 783.7,183.3 781,187 787.4,198.3 786.5,200 778,205 776.75,214 775,227.5 750.5,237 745,240.9 743,245 737.4,249.3 720.5,256.8 692.4,264.3 666,273 660,276 656,280 655.3,285 655.5,290 652,298.75 657.5,300.75 674,300.75 682.5,305 722.5,313.75 747,315.5 752,317.5 733.25,330.5 727,332.5 712,340.5 704.5,345.5 648.25,361 619.5,371.25 604.5,374.25 587,375 572,373 557,373.5 538.25,376.75 528,381.5 512,390 505.75,393.25 472,399.5 453.25,401.25 427,405.75 418.25,404.5"/>
<polyline points="413.25,403.75 387,396.25 359.5,399 325.75,397.5 317,402 312,409 292,418.25 272,422 266,423 251,423.75 236,428.75 221,430 211,427.5 202,415.75 181,411 158.5,413.75 154.75,402.5 137,392.5 129,385 129.75,378.75 138.5,366 139.75,357.5 129,345 128.5,336 130.75,328 140,309.5 148,307.7 153.25,305.75 155.4,303.3 155.3,301.4 151,298 145.75,294.5 142,291.5 139.8,288.5 140,285"/>
</g>
<g id="labels" font-size="11.8" fill="#0a0a0a" text-anchor="middle" letter-spacing="0.45">
<line x1="504.1" y1="90.5" x2="504.1" y2="126" stroke="#707070" stroke-width="1.1"/>
<text x="504" y="77.8">4.3%</text>
<text x="504" y="88.75">82m</text>
<line x1="749.6" y1="105.7" x2="748" y2="141.5" stroke="#707070" stroke-width="1.1"/>
<text x="749.6" y="94">7.5%</text>
<text x="749.6" y="103.9">92m</text>
<line x1="856.25" y1="82.25" x2="854" y2="117.5" stroke="#707070" stroke-width="1.1"/>
<text x="856" y="70">5.2%</text>
<text x="856" y="80.75">24m</text>
<line x1="823" y1="136.6" x2="822" y2="160" stroke="#707070" stroke-width="1.1"/>
<text x="823.6" y="123.9">5.8%</text>
<text x="823.6" y="134.4">198m</text>
<line x1="777.75" y1="177.3" x2="776.8" y2="215.75" stroke="#707070" stroke-width="1.1"/>
<text x="778" y="165.5">8.5%</text>
<text x="778" y="175.4">87m</text>
<line x1="656.25" y1="241" x2="655" y2="280" stroke="#707070" stroke-width="1.1"/>
<text x="656" y="228.5">6.4%</text>
<text x="656" y="238.6">24m</text>
<line x1="734.5" y1="290.5" x2="732.75" y2="330" stroke="#707070" stroke-width="1.1"/>
<text x="734.6" y="278">6.6%</text>
<text x="734.6" y="288">27m</text>
<line x1="586.5" y1="335.5" x2="586.5" y2="374" stroke="#707070" stroke-width="1.1"/>
<text x="586.2" y="323">6.6%</text>
<text x="586.2" y="332.75">154m</text>
<line x1="286" y1="379" x2="288.5" y2="419" stroke="#707070" stroke-width="1.1"/>
<text x="286" y="366.5">5.4%</text>
<text x="286" y="376.5">60m</text>
<line x1="137.25" y1="247.25" x2="140" y2="285" stroke="#707070" stroke-width="1.1"/>
<text x="137.3" y="234.75">-8.5%</text>
<text x="137.3" y="244.75">37m</text>
<line x1="130.5" y1="331.5" x2="133.5" y2="371.5" stroke="#707070" stroke-width="1.1"/>
<text x="130.75" y="320.25">-7.7%</text>
<text x="130.75" y="330.25">179m</text>
</g>
<defs><linearGradient id="lg" x1="0" y1="0" x2="0" y2="1">
<stop offset="0" stop-color="#400008"/>
<stop offset="0.13" stop-color="#a80000"/>
<stop offset="0.186" stop-color="#e00000"/>
<stop offset="0.244" stop-color="#f04000"/>
<stop offset="0.3" stop-color="#f0a000"/>
<stop offset="0.35" stop-color="#f0e000"/>
<stop offset="0.42" stop-color="#d0d040"/>
<stop offset="0.465" stop-color="#a0c860"/>
<stop offset="0.5" stop-color="#10c820"/>
<stop offset="0.547" stop-color="#50c8a0"/>
<stop offset="0.58" stop-color="#70d0d0"/>
<stop offset="0.65" stop-color="#00e8e8"/>
<stop offset="0.71" stop-color="#00a0f0"/>
<stop offset="0.767" stop-color="#0030e0"/>
<stop offset="0.837" stop-color="#0000c0"/>
<stop offset="0.93" stop-color="#000080"/>
<stop offset="1" stop-color="#000040"/>
</linearGradient></defs>
<rect x="1002" y="375" width="13" height="127.5" fill="url(#lg)"/>
<g font-size="13" fill="#111" text-anchor="end" transform="translate(995,0) scale(0.94,1) translate(-995,0)">
<text x="995" y="378.6">25%</text>
<text x="995" y="417.4">10%</text>
<text x="995" y="443.3">0%</text>
<text x="995" y="468.4">-10%</text>
<text x="995" y="507">(Grid: 1 km) -25%</text>
</g>
<text x="11.3" y="27.6" font-size="25.75" fill="#000">2023 Dauphin&#233; Stage 1 Lap Circuit</text>
<text x="1011.8" y="25.6" font-size="19.6" fill="#000" text-anchor="end">23.1 km at 0%</text>
<g id="logo">
<polygon points="4.75,469.6 15.7,469.6 23.75,484.3 31.8,469.6 42.8,469.6 23.75,503.8" fill="#000000"/>
<circle cx="52.9" cy="486.6" r="17.2" fill="#000000"/>
<path d="M45.9,484.2 A7,7.2 0 0 1 59.9,484.2 Z" fill="#fff"/>
<path d="M45.9,489.9 A7,6.4 0 0 0 59.9,489.9 Z" fill="#fff"/>
<polygon points="56.9,489.9 73.1,489.9 73.1,502.4 61.5,492.2 58.9,493.4" fill="#fff"/>
<rect x="68.75" y="455.5" width="11.9" height="48" fill="#000000"/>
<circle cx="98.4" cy="486.6" r="17.2" fill="#000000"/>
<circle cx="98.4" cy="486.6" r="7.2" fill="#fff"/>
<polygon points="106.2,469.6 118.75,469.6 126.25,505 125,505" fill="#fff"/>
<polygon points="107.5,469.6 118.75,469.6 126.25,484.5 133.6,469.6 145,469.6 126.25,503.8" fill="#ff0033"/>
<circle cx="172.2" cy="486.6" r="17.2" fill="#ff0033"/>
<path d="M165.2,484.2 A7,7.2 0 0 1 179.2,484.2 Z" fill="#fff"/>
<path d="M165.2,489.9 A7,6.4 0 0 0 179.2,489.9 Z" fill="#fff"/>
<polygon points="176.2,489.9 192.4,489.9 192.4,502.4 180.8,492.2 178.2,493.4" fill="#fff"/>
<rect x="143" y="469.6" width="12" height="33.9" fill="#ff0033"/>
<circle cx="149" cy="461.4" r="5.9" fill="#ff0033"/>
<polygon points="185.3,469.6 194.7,469.6 199.5,485.9 204.2,469.6 214.1,469.6 219.2,486.3 224,469.6 234.7,469.6 224.8,503.5 214.1,503.5 208.9,486.8 204.2,503.5 193,503.5" fill="#ff0033"/>
<circle cx="248.6" cy="486.6" r="17.2" fill="#ff0033"/>
<path d="M241.6,484.2 A7,7.2 0 0 1 255.6,484.2 Z" fill="#fff"/>
<path d="M241.6,489.9 A7,6.4 0 0 0 255.6,489.9 Z" fill="#fff"/>
<polygon points="252.6,489.9 268.8,489.9 268.8,502.4 257.2,492.2 254.6,493.4" fill="#fff"/>
<rect x="263" y="469.6" width="11.4" height="33.9" fill="#ff0033"/>
<path d="M273,473.5 C277,470.6 281,469.3 285.7,469.3 L285.7,481.2 C279,481.2 274.4,485 274.4,493 L273,493 Z" fill="#ff0033"/>
<text x="305.5" y="476.9" font-size="9.5" font-weight="bold" fill="#1a1a1a" textLength="68.9" lengthAdjust="spacingAndGlyphs" transform="translate(0,476.9) scale(1,1.0) translate(0,-476.9)">POWERED BY</text>
<text x="306.2" y="502.8" font-size="25.4" font-weight="bold" fill="#fc4c02" stroke="#fc4c02" stroke-width="1.5" stroke-linejoin="miter" textLength="53.6" lengthAdjust="spacingAndGlyphs">STR</text>
<polygon points="359.3,503.5 369.56,483 379.8,503.5 372.95,503.5 369.56,495 365.3,503.5" fill="#fc4c02"/>
<polygon points="373.4,484.1 380.06,484.1 383.3,492.6 388,484.1 394.3,484.1 383.3,504.6" fill="#fc4c02"/>
<polygon points="388,503.5 398.5,483 408.76,503.5 402.2,503.5 398.5,495 394,503.5" fill="#fc4c02"/>
</g>
</svg></body></html>
